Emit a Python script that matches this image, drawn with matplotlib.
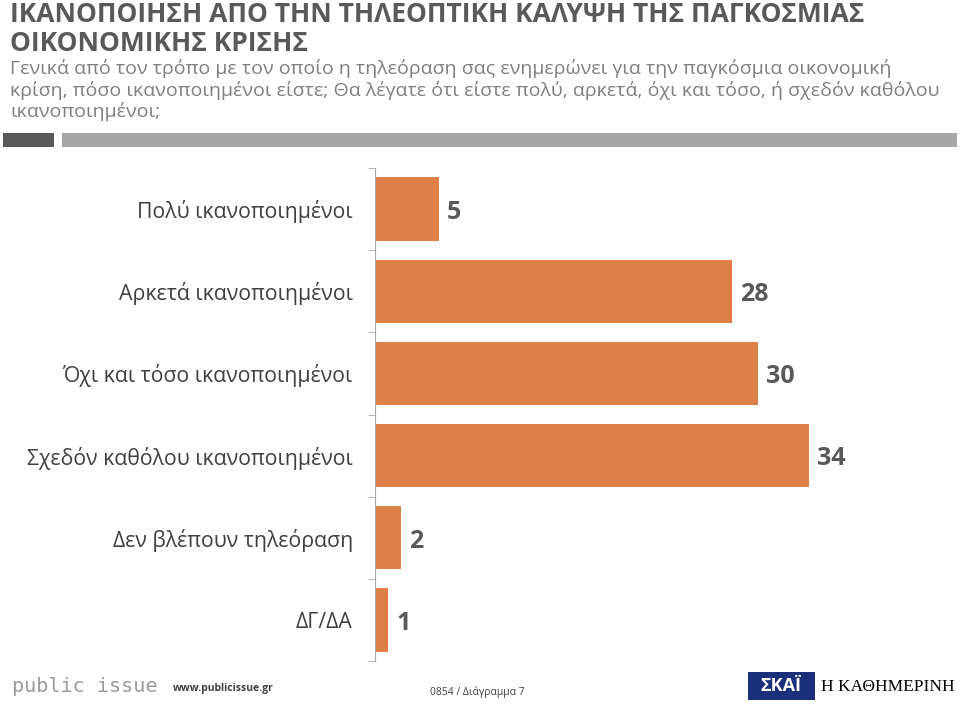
import matplotlib.pyplot as plt
from matplotlib.patches import Rectangle
import numpy as np

# data
categories = ["Πολύ ικανοποιημένοι", "Αρκετά ικανοποιημένοι", "Όχι και τόσο ικανοποιημένοι",
              "Σχεδόν καθόλου ικανοποιημένοι", "Δεν βλέπουν τηλεόραση", "ΔΓ/ΔΑ"]
values = [5, 28, 30, 34, 2, 1]

title = "ΙΚΑΝΟΠΟΙΗΣΗ ΑΠΟ ΤΗΝ ΤΗΛΕΟΠΤΙΚΗ ΚΑΛΥΨΗ ΤΗΣ ΠΑΓΚΟΣΜΙΑΣ\nΟΙΚΟΝΟΜΙΚΗΣ ΚΡΙΣΗΣ"
subtitle = ("Γενικά από τον τρόπο με τον οποίο η τηλεόραση σας ενημερώνει για την παγκόσμια οικονομική\n"
            "κρίση, πόσο ικανοποιημένοι είστε; Θα λέγατε ότι είστε πολύ, αρκετά, όχι και τόσο, ή σχεδόν καθόλου\n"
            "ικανοποιημένοι;")

plt.rcParams['font.family'] = ['Open Sans', 'DejaVu Sans']

W, H = 960, 705
fig = plt.figure(figsize=(W / 100, H / 100), dpi=100)


def fx(px):
    return px / W


def fy(py):
    return 1 - py / H


# header
fig.text(fx(10), fy(1), title, fontsize=19, fontweight='bold', color='#595959',
         va='top', ha='left', linespacing=1.08)
fig.text(fx(10), fy(59), subtitle, fontsize=14, color='#7f7f7f',
         va='top', ha='left', linespacing=1.18)
fig.patches.append(Rectangle((fx(3), fy(147)), fx(51), 14 / H, transform=fig.transFigure,
                             color='#595959', lw=0))
fig.patches.append(Rectangle((fx(62), fy(147)), fx(895), 14 / H, transform=fig.transFigure,
                             color='#a6a6a6', lw=0))

# chart
ax = fig.add_axes([fx(375), 44 / H, fx(575), (661 - 168) / H])
y = np.arange(len(categories))
ax.barh(y, values, height=0.77, color='#dd8047')
ax.set_xlim(0, 575 / 12.75)
ax.set_ylim(len(categories) - 0.5, -0.5)
for yi, v in zip(y, values):
    ax.text(v + 0.65, yi + 0.04, str(v), fontsize=18, fontweight='bold', color='#595959',
            va='center', ha='left')

for s in ['top', 'right', 'bottom']:
    ax.spines[s].set_visible(False)
ax.spines['left'].set_color('#a6a6a6')
ax.set_xticks([])
ax.set_yticks(y)
ax.set_yticklabels(categories, fontsize=15.3, color='#404040')
ax.tick_params(axis='y', which='major', length=0, pad=16)
ax.set_yticks(np.arange(-0.5, len(categories), 1), minor=True)
ax.tick_params(axis='y', which='minor', length=5, color='#a6a6a6')

# footer
fig.text(fx(12), fy(686), "public issue", fontsize=14.5, color='#9a9a9a',
         va='center', ha='left', family='DejaVu Sans Mono')
fig.text(fx(173), fy(688), "www.publicissue.gr", fontsize=7.5, fontweight='bold',
         color='#404040', va='center', ha='left')
fig.text(fx(430), fy(692), "0854 / Διάγραμμα 7", fontsize=7.5, color='#404040',
         va='center', ha='left')
fig.patches.append(Rectangle((fx(748), fy(700)), fx(67), 28 / H, transform=fig.transFigure,
                             color='#1c2f7a', lw=0))
fig.text(fx(781), fy(686), "ΣΚΑΪ", fontsize=13, fontweight='bold', color='white',
         va='center', ha='center')
fig.text(fx(955), fy(687), "Η ΚΑΘΗΜΕΡΙΝΗ", fontsize=12.5, color='black',
         va='center', ha='right', family='Liberation Serif')

fig.savefig("out.png", dpi=100)
